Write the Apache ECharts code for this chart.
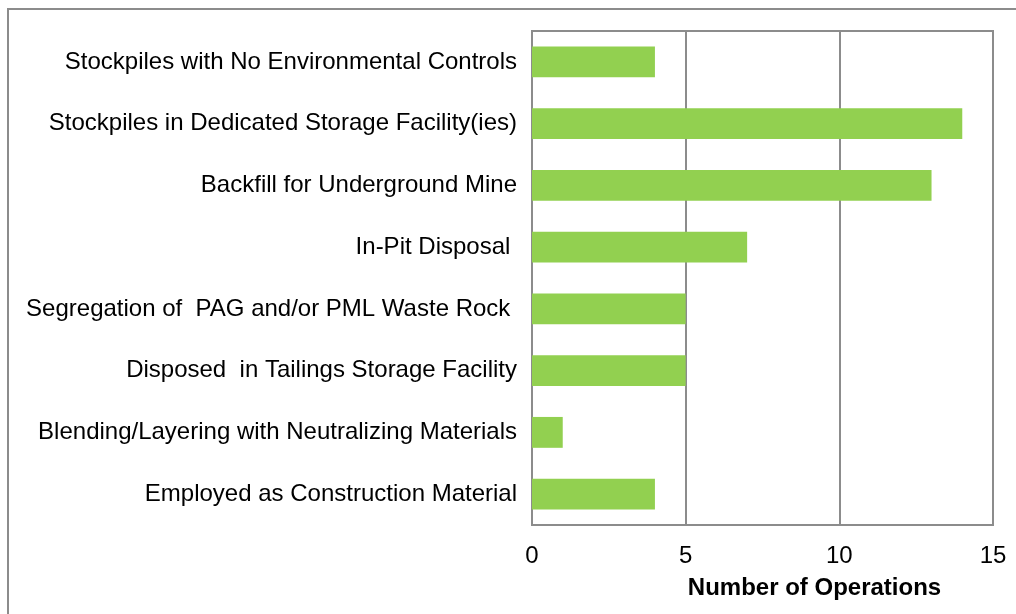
<!DOCTYPE html>
<html>
<head>
<meta charset="utf-8">
<script src="https://cdn.jsdelivr.net/npm/echarts@6/dist/echarts.min.js"></script>
<style>
  html, body { margin: 0; padding: 0; background: #fff; }
  #chart { width: 1016px; height: 614px; }
</style>
</head>
<body>
<div id="chart"></div>
<script>
const categories = [
  'Stockpiles with No Environmental Controls',
  'Stockpiles in Dedicated Storage Facility(ies)',
  'Backfill for Underground Mine',
  'In-Pit Disposal ',
  'Segregation of  PAG and/or PML Waste Rock ',
  'Disposed  in Tailings Storage Facility',
  'Blending/Layering with Neutralizing Materials',
  'Employed as Construction Material'
]
const operations = [4, 14, 13, 7, 5, 5, 1, 4]
const xTicks = [0, 5, 10, 15]

const font = '"Liberation Sans", Arial, sans-serif'
const lineGray = '#8c8c8c'

let myChart = echarts.init(document.getElementById('chart'))
myChart.setOption({
  animation: false,
  textStyle: { fontFamily: font },
  graphic: [
    {
      // outer chart-area frame, runs off the right and bottom edges
      type: 'rect',
      shape: { x: 8, y: 9, width: 1030, height: 630 },
      style: { fill: null, stroke: lineGray, lineWidth: 2 },
      silent: true
    }
  ],
  grid: {
    left: 532,
    top: 31,
    right: 23,
    bottom: 89,
    show: true,
    borderColor: lineGray,
    borderWidth: 2
  },
  xAxis: {
    type: 'value',
    min: xTicks[0],
    max: xTicks[xTicks.length - 1],
    interval: 5,
    axisLine: { show: true, lineStyle: { color: lineGray, width: 2 } },
    axisTick: { show: false },
    splitLine: { show: true, lineStyle: { color: lineGray, width: 2 } },
    axisLabel: { color: '#000', fontSize: 24, margin: 19, fontFamily: font },
    name: 'Number of Operations',
    nameLocation: 'middle',
    nameGap: 51,
    nameTextStyle: {
      color: '#000',
      fontSize: 24,
      fontWeight: 'bold',
      fontFamily: font,
      padding: [0, 0, 0, 104]
    }
  },
  yAxis: {
    type: 'category',
    inverse: true,
    data: categories,
    axisLine: { show: true, lineStyle: { color: lineGray, width: 2 } },
    axisTick: { show: false },
    axisLabel: { color: '#000', fontSize: 24, margin: 15, fontFamily: font }
  },
  series: [
    {
      name: 'Operations',
      type: 'bar',
      data: operations,
      barWidth: '50%',
      itemStyle: { color: '#92d050' }
    }
  ]
})
window.addEventListener('resize', function () {
  myChart.resize()
})
</script>
</body>
</html>
